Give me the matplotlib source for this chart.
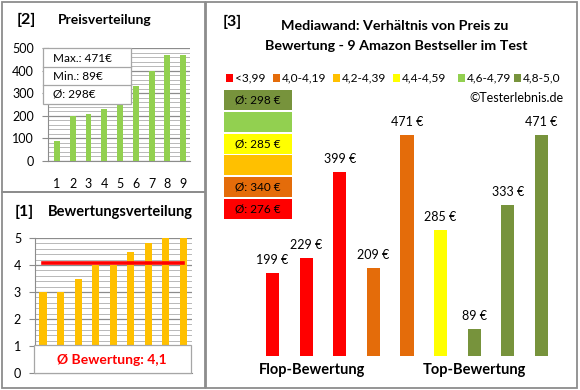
import matplotlib
matplotlib.use('Agg')
import matplotlib.pyplot as plt
from matplotlib.patches import Rectangle
from matplotlib.lines import Line2D
import numpy as np

plt.rcParams['font.family'] = ['Lato', 'DejaVu Sans']

# Daten
produkt_nr = [1, 2, 3, 4, 5, 6, 7, 8, 9]
preise = [89, 199, 209, 229, 285, 333, 399, 471, 471]
bewertungen = [3.0, 3.0, 3.5, 4.0, 4.0, 4.5, 4.8, 5.0, 5.0]

mw_preise = [199, 229, 399, 209, 471, 285, 89, 333, 471]
mw_klasse = [0, 0, 0, 1, 1, 3, 5, 5, 5]
klassen = ['<3,99', '4,0-4,19', '4,2-4,39', '4,4-4,59', '4,6-4,79', '4,8-5,0']
klassen_farben = ['#FF0000', '#E46C0A', '#FFC000', '#FFFF00', '#92D050', '#77933C']

W, H = 580, 390
fig = plt.figure(figsize=(W / 100, H / 100), dpi=100)


def fbox(x0, y0, x1, y1):
    return [x0 / W, 1 - y1 / H, (x1 - x0) / W, (y1 - y0) / H]


def rect(x0, y0, x1, y1, **kw):
    r = Rectangle((x0 / W, 1 - y1 / H), (x1 - x0) / W, (y1 - y0) / H,
                  transform=fig.transFigure, **kw)
    fig.add_artist(r)
    return r


def ftext(x, y, s, **kw):
    return fig.text(x / W, 1 - y / H, s, **kw)


def hline(x0, x1, y, **kw):
    fig.add_artist(Line2D([x0 / W, x1 / W], [1 - y / H, 1 - y / H],
                          transform=fig.transFigure, **kw))


grau = '#8c8c8c'

# Rahmen
for b in [(2, 2, 205, 192), (2, 192, 205, 388), (206, 2, 577, 388)]:
    rect(*b, fill=False, ec=grau, lw=1.3, zorder=10)


def gitter(ax, major, minor):
    ax.set_yticks(major)
    ax.set_yticks(minor, minor=True)
    ax.grid(axis='y', which='major', color='#8c8c8c', lw=0.9, zorder=0)
    ax.grid(axis='y', which='minor', color='#b8b8b8', lw=0.7, zorder=0)
    ax.set_axisbelow(True)
    for s in ['top', 'right']:
        ax.spines[s].set_visible(False)
    for s in ['left', 'bottom']:
        ax.spines[s].set_color(grau)
    ax.tick_params(axis='y', which='major', length=4, color=grau, pad=6, labelsize=9)
    ax.tick_params(axis='y', which='minor', length=0)


# [2] Preisverteilung
ftext(17, 20, '[2]', fontsize=11.5, fontweight='bold', va='center')
ftext(58, 20, 'Preisverteilung', fontsize=10, fontweight='bold', va='center')
ax2 = fig.add_axes(fbox(48, 48, 190, 161))
ax2.bar(produkt_nr, preise, width=0.38, color='#92D050', zorder=3)
ax2.set_xlim(0.43, 9.44)
ax2.set_ylim(0, 500)
gitter(ax2, range(0, 501, 100), range(0, 501, 20))
ax2.set_xticks(produkt_nr)
ax2.tick_params(axis='x', length=0, pad=12, labelsize=9)

rect(43, 48, 131, 104, fc='white', ec='#a6a6a6', lw=0.9, zorder=5)
hline(43, 131, 67, color='#a6a6a6', lw=0.9, zorder=6)
hline(43, 131, 85, color='#a6a6a6', lw=0.9, zorder=6)
ftext(53, 58, f'Max.: {max(preise)}€', fontsize=8.5, va='center', zorder=7)
ftext(53, 76, f'Min.: {min(preise)}€', fontsize=8.5, va='center', zorder=7)
ftext(53, 94.5, f'Ø: {round(np.mean(preise))}€', fontsize=8.5, va='center', zorder=7)

# [1] Bewertungsverteilung
ftext(15, 212, '[1]', fontsize=11.5, fontweight='bold', va='center')
ftext(48, 212, 'Bewertungsverteilung', fontsize=10.5, fontweight='bold', va='center')
ax1 = fig.add_axes(fbox(35, 238, 192, 373))
ax1.bar(produkt_nr, bewertungen, width=0.4, color='#FFC000', zorder=3)
mittel = np.mean(bewertungen)
ax1.plot([produkt_nr[0], produkt_nr[-1]], [mittel, mittel], color='#FF0000', lw=2.6, zorder=4)
ax1.set_xlim(0.543, 9.51)
ax1.set_ylim(0, 5)
gitter(ax1, range(0, 6), np.arange(0, 5.01, 0.2))
ax1.set_xticks([])

rect(34, 345, 191, 373, fc='white', ec='#a6a6a6', lw=0.9, zorder=5)
ftext(112, 360, f'Ø Bewertung: {mittel:.1f}'.replace('.', ','), fontsize=10,
      fontweight='bold', color='#FF0000', ha='center', va='center', zorder=7)

# [3] Mediawand
ftext(223, 22, '[3]', fontsize=11.5, fontweight='bold', va='center')
ftext(395, 26, 'Mediawand: Verhältnis von Preis zu', fontsize=10.3,
      fontweight='bold', ha='center', va='center')
ftext(396, 46, 'Bewertung - 9 Amazon Bestseller im Test', fontsize=10.3,
      fontweight='bold', ha='center', va='center')

leg_x = [226, 273, 333, 393, 458, 514]
for x, lab, col in zip(leg_x, klassen, klassen_farben):
    rect(x, 74, x + 7, 81.5, fc=col, ec='none')
    ftext(x + 9, 78, lab, fontsize=8.6, va='center')
ftext(563, 98, '©Testerlebnis.de', fontsize=9, ha='right', va='center')

y0 = 90
for i, k in enumerate(range(len(klassen) - 1, -1, -1)):
    top = y0 + i * 21.8
    rect(224, top, 292, top + 20, fc=klassen_farben[k], ec='none')
    werte = [p for p, c in zip(mw_preise, mw_klasse) if c == k]
    if werte:
        ftext(258, top + 10, f'Ø: {round(np.mean(werte))} €', fontsize=8.5,
              ha='center', va='center')

ax3 = fig.add_axes(fbox(250, 120.5, 565, 356))
pos = np.arange(1, len(mw_preise) + 1)
ax3.bar(pos, mw_preise, width=0.39, color=[klassen_farben[k] for k in mw_klasse])
for x, v in zip(pos, mw_preise):
    ax3.annotate(f'{v} €', (x, v), xytext=(0, 9.5), textcoords='offset points',
                 ha='center', va='center', fontsize=9, annotation_clip=False)
ax3.set_xlim(0.331, 9.70)
ax3.set_ylim(36.4, 500)
ax3.axis('off')

ftext(312, 370, 'Flop-Bewertung', fontsize=10.5, fontweight='bold', ha='center', va='center')
ftext(474, 370, 'Top-Bewertung', fontsize=10.5, fontweight='bold', ha='center', va='center')

fig.savefig('out.png', dpi=100)
